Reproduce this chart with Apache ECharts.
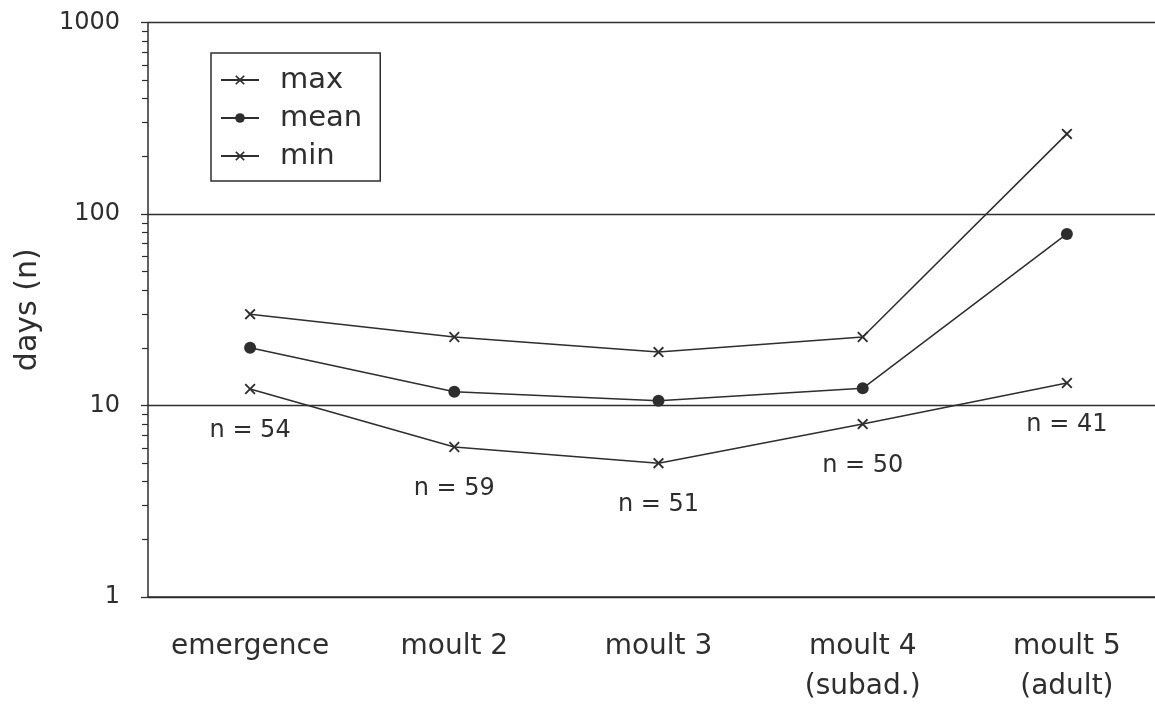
<!DOCTYPE html>
<html>
<head>
<meta charset="utf-8">
<script src="https://cdn.jsdelivr.net/npm/echarts@6/dist/echarts.min.js"></script>
<style>
html,body{margin:0;padding:0;background:#fff;}
#chart{width:1155px;height:704px;}
</style>
</head>
<body>
<div id="chart"></div>
<script>
var categories = ['emergence', 'moult 2', 'moult 3', 'moult 4\n(subad.)', 'moult 5\n(adult)'];
var maxDays = [30, 22.8, 19, 22.8, 262];
var meanDays = [20, 11.8, 10.6, 12.3, 78.7];
var minDays = [12.2, 6.07, 5.0, 8.0, 13.1];
var sampleN = [54, 59, 51, 50, 41];

var ink = '#2e2e2e';
var font = 'DejaVu Sans';
var xPath = 'path://M0,1.2L1.2,0L5,3.8L8.8,0L10,1.2L6.2,5L10,8.8L8.8,10L5,6.2L1.2,10L0,8.8L3.8,5Z';

var chart = echarts.init(document.getElementById('chart'));
chart.setOption({
  animation: false,
  backgroundColor: '#ffffff',
  textStyle: { fontFamily: font, color: ink },
  grid: { left: 148, right: -14, top: 22.5, bottom: 107, outerBoundsMode: 'none', containLabel: false },
  legend: {
    orient: 'vertical',
    left: 211, top: 53,
    padding: [12, 18, 10, 9],
    borderColor: ink, borderWidth: 1.5,
    itemWidth: 38, itemHeight: 12, itemGap: 8,
    textStyle: { fontFamily: font, fontSize: 29, color: ink, lineHeight: 30, padding: [0, 0, 0, 16] },
    data: ['max', 'mean', 'min']
  },
  xAxis: {
    type: 'category',
    data: categories,
    boundaryGap: true,
    axisLine: { lineStyle: { color: ink, width: 1.5 } },
    axisTick: { show: false },
    axisLabel: { interval: 0, fontFamily: font, fontSize: 28, color: ink, margin: 30, lineHeight: 40 }
  },
  yAxis: {
    type: 'log',
    logBase: 10,
    min: 1, max: 1000,
    name: 'days (n)',
    nameLocation: 'middle',
    nameGap: 105,
    nameTextStyle: { fontFamily: font, fontSize: 30, color: ink },
    axisLine: { show: true, lineStyle: { color: ink, width: 1.5 } },
    axisTick: { show: true, length: 7, lineStyle: { color: ink, width: 1.3 } },
    minorTick: { show: true, splitNumber: 9, length: 6, lineStyle: { color: ink, width: 1.2 } },
    splitLine: { show: true, lineStyle: { color: ink, width: 1.3 } },
    axisLabel: {
      fontFamily: font, fontSize: 24, color: ink, margin: 28,
      formatter: function (v) { return String(Math.round(v)); }
    }
  },
  series: [
    {
      name: 'max', type: 'line', data: maxDays,
      symbol: xPath, symbolSize: 11,
      lineStyle: { color: ink, width: 1.5 },
      itemStyle: { color: ink }
    },
    {
      name: 'mean', type: 'line', data: meanDays,
      symbol: 'circle', symbolSize: 12,
      lineStyle: { color: ink, width: 1.5 },
      itemStyle: { color: ink }
    },
    {
      name: 'min', type: 'line', data: minDays,
      symbol: xPath, symbolSize: 11,
      lineStyle: { color: ink, width: 1.5 },
      itemStyle: { color: ink },
      label: {
        show: true, position: 'bottom', distance: 24,
        fontFamily: font, fontSize: 24, color: ink,
        formatter: function (p) { return 'n = ' + sampleN[p.dataIndex]; }
      }
    }
  ]
});
</script>
</body>
</html>
